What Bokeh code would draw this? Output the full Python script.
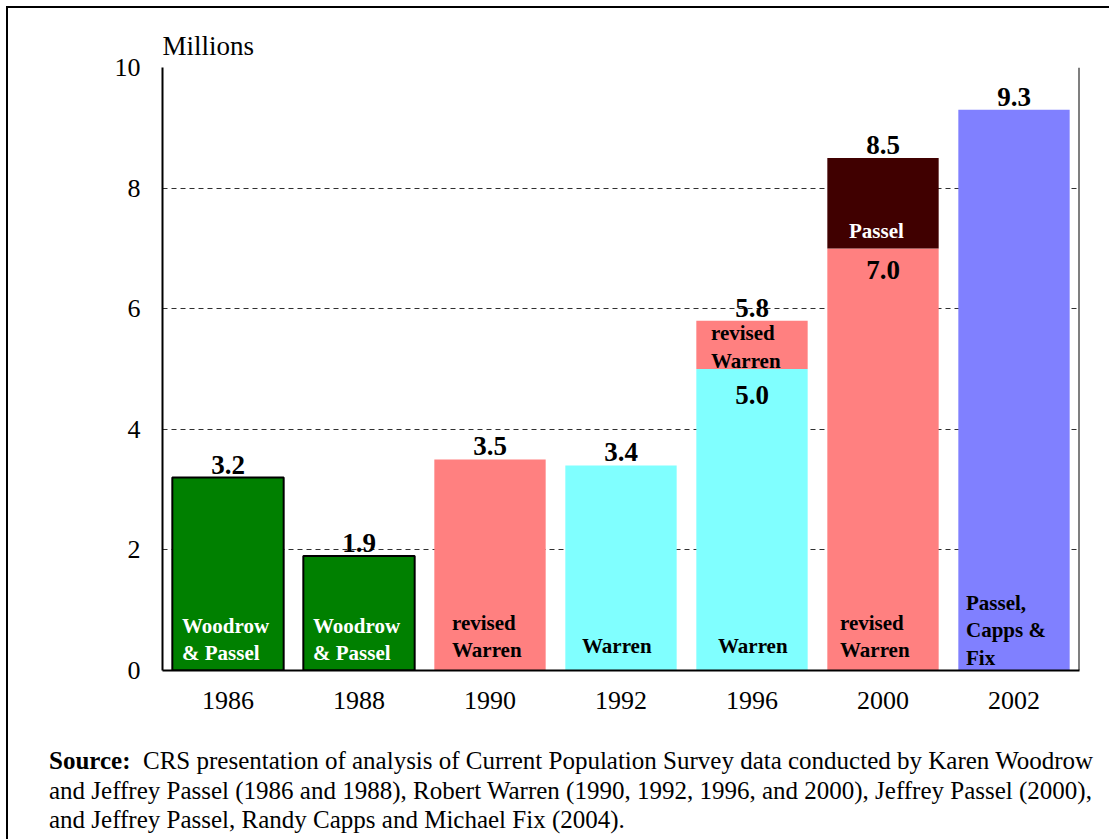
from bokeh.plotting import figure
from bokeh.layouts import column
from bokeh.models import (Range1d, FactorRange, Span, ColumnDataSource, FixedTicker, Div)
from bokeh.core.properties import value
from bokeh.embed import file_html
from bokeh.resources import INLINE

SERIF = "Liberation Serif"

# ---- data ----
years = ["1986", "1988", "1990", "1992", "1996", "2000", "2002"]
base_values = [3.2, 1.9, 3.5, 3.4, 5.0, 7.0, 9.3]
base_colors = ["#008000", "#008000", "#FF8080", "#80FFFF", "#80FFFF", "#FF8080", "#8080FF"]
base_outline = [1, 1, 0, 0, 0, 0, 0]

top_years = ["1996", "2000"]
top_bottoms = [5.0, 7.0]
top_values = [5.8, 8.5]
top_colors = ["#FF8080", "#400000"]

totals = [3.2, 1.9, 3.5, 3.4, 5.8, 8.5, 9.3]

# inner labels: category, text, colour, anchor value
inner_cats = ["1986", "1988", "1990", "1992", "1996", "1996", "2000", "2000", "2002"]
inner_texts = ["Woodrow\n& Passel", "Woodrow\n& Passel", "revised\nWarren", "Warren",
               "Warren", "revised\nWarren", "revised\nWarren", "Passel",
               "Passel,\nCapps &\nFix"]
inner_colors = ["white", "white", "black", "black", "black", "black", "black", "white", "black"]
inner_anchor = [0, 0, 0, 0, 0, 5.8, 0, 7.0, 0]
inner_dx = [-46, -46, -38, -39, -34, -41, -43, -34, -48]
inner_dy = [-31, -31, -34, -25, -25, 26, -34, -17, -40]

seg_cats = ["1996", "2000"]
seg_values = [5.0, 7.0]
seg_dy = [26, 22]

y_ticks = [0, 2, 4, 6, 8, 10]

footnote_bold = "Source:"
footnote_lines = [
    "CRS presentation of analysis of Current Population Survey data conducted by Karen Woodrow",
    "and Jeffrey Passel (1986 and 1988), Robert Warren (1990, 1992, 1996, and 2000), Jeffrey Passel (2000),",
    "and Jeffrey Passel, Randy Capps and Michael Fix (2004).",
]

FIG_W, FIG_H = 1095, 717

p = figure(x_range=FactorRange(*years, range_padding=0), y_range=Range1d(0, 10),
           width=FIG_W, height=FIG_H, output_backend="svg", toolbar_location=None,
           min_border_left=154, min_border_right=24, min_border_top=59, min_border_bottom=55,
           outline_line_color=None, background_fill_color="white", border_fill_color="white",
           title="Millions")

p.title.text_font = SERIF
p.title.text_font_size = "27px"
p.title.text_font_style = "normal"
p.title.text_color = "black"
p.title.align = "left"
p.title.offset = 0
p.title.standoff = 14

p.ygrid.ticker = FixedTicker(ticks=y_ticks)
p.ygrid.grid_line_color = "#303030"
p.ygrid.grid_line_dash = "5 4"
p.ygrid.grid_line_width = 1
p.xgrid.visible = False

p.yaxis.ticker = FixedTicker(ticks=y_ticks)
for ax in (p.xaxis[0], p.yaxis[0]):
    ax.major_tick_line_color = None
    ax.minor_tick_line_color = None
    ax.axis_line_color = "black"
    ax.axis_line_width = 2
    ax.major_label_text_font = SERIF
    ax.major_label_text_font_size = "26px"
    ax.major_label_text_color = "black"
p.yaxis.major_label_standoff = 16
p.xaxis.major_label_standoff = 15

src = ColumnDataSource(dict(x=years, top=base_values, color=base_colors, la=base_outline))
p.vbar(x="x", top="top", bottom=0, width=0.85, source=src, fill_color="color",
       line_color="black", line_width=2, line_alpha="la")
src2 = ColumnDataSource(dict(x=top_years, bottom=top_bottoms, top=top_values, color=top_colors))
p.vbar(x="x", top="top", bottom="bottom", width=0.85, source=src2, fill_color="color",
       line_color=None)

# right edge of frame
p.add_layout(Span(location=len(years), dimension="height", line_color="black", line_width=2))

# total labels
src3 = ColumnDataSource(dict(x=years, y=totals, t=[f"{v:.1f}" for v in totals]))
p.text(x="x", y="y", text="t", source=src3, text_align="center", text_baseline="middle",
       y_offset=-13, text_font=value(SERIF), text_font_style="bold", text_font_size="27px",
       text_color="black")

# segment value labels
src4 = ColumnDataSource(dict(x=seg_cats, y=seg_values, t=[f"{v:.1f}" for v in seg_values], dy=seg_dy))
p.text(x="x", y="y", text="t", source=src4, text_align="center", text_baseline="middle",
       y_offset="dy", text_font=value(SERIF), text_font_style="bold", text_font_size="27px",
       text_color="black")

# inner labels
src5 = ColumnDataSource(dict(x=inner_cats, y=inner_anchor, t=inner_texts, c=inner_colors,
                             dx=inner_dx, dy=inner_dy))
p.text(x="x", y="y", text="t", source=src5, text_align="left", text_baseline="middle",
       x_offset="dx", y_offset="dy", text_color="c", text_font=value(SERIF),
       text_font_style="bold", text_font_size="21px", text_line_height=1.15)

foot_html = (
    "<div style=\"font-family:'Liberation Serif';font-size:25px;line-height:29.5px;"
    "padding:16px 0 0 36px;white-space:nowrap;color:black;\">"
    f"<b>{footnote_bold}</b>&nbsp; {footnote_lines[0]}<br>{footnote_lines[1]}<br>{footnote_lines[2]}"
    "</div>"
)
foot = Div(text=foot_html, width=FIG_W, height=108)

layout = column(p, foot, margin=(6, 0, 0, 6),
                styles={"border-left": "2px solid black", "border-top": "2px solid black",
                        "background-color": "white"})

open("out.html", "w").write(file_html(layout, INLINE))
